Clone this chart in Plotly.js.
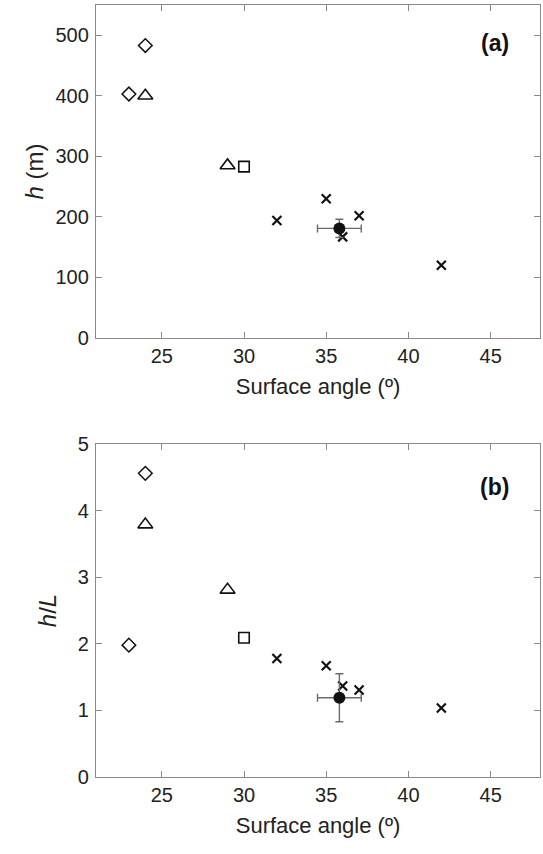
<!DOCTYPE html>
<html>
<head>
<meta charset="utf-8">
<script src="https://cdn.plot.ly/plotly-3.0.1.min.js"></script>
<style>html,body{margin:0;padding:0;background:#fff;}#chart{width:543px;height:854px;}</style>
</head>
<body>
<div id="chart"></div>
<script>
// Data
const angleDiamond = [24, 23];
const hDiamond = [483, 403];
const hLDiamond = [4.56, 1.98];

const angleTriangle = [24, 29];
const hTriangle = [400, 285];
const hLTriangle = [3.79, 2.81];

const angleSquare = [30];
const hSquare = [283];
const hLSquare = [2.09];

const angleCross = [32, 35, 36, 37, 42];
const hCross = [194, 230, 167, 202, 120];
const hLCross = [1.78, 1.67, 1.365, 1.305, 1.035];

const angleMean = [35.8];
const hMean = [181];
const hLMean = [1.19];
const angleErr = [1.33];
const hErr = [15];
const hLErr = [0.36];

const xTicks = [25, 30, 35, 40, 45];
const hTicks = [0, 100, 200, 300, 400, 500];
const hLTicks = [0, 1, 2, 3, 4, 5];

const FONT = 'Arial, "Liberation Sans", sans-serif';
const axisCol = '#8a8a8a';

function mk(x, y, sym, size, ax, lw, extra) {
  return Object.assign({
    type: 'scatter', mode: 'markers', x: x, y: y,
    xaxis: ax[0], yaxis: ax[1], showlegend: false, hoverinfo: 'skip',
    marker: {symbol: sym, size: size, color: '#111', line: {color: '#111', width: lw}}
  }, extra || {});
}

const errStyle = {type: 'data', color: '#6a6a6a', thickness: 1.4, width: 4};

const traces = [];
[['x', 'y', hDiamond, hTriangle, hSquare, hCross, hMean, hErr],
 ['x2', 'y2', hLDiamond, hLTriangle, hLSquare, hLCross, hLMean, hLErr]].forEach(p => {
  const ax = [p[0], p[1]];
  traces.push(mk(angleDiamond, p[2], 'diamond-open', 10.5, ax, 1.5));
  traces.push(mk(angleTriangle, p[3], 'triangle-up-open', 13, ax, 1.6));
  traces.push(mk(angleSquare, p[4], 'square-open', 10.5, ax, 1.6));
  traces.push(mk(angleCross, p[5], 'x-thin-open', 9, ax, 2.2));
  traces.push(mk(angleMean, p[6], 'circle', 12, ax, 0, {
    error_x: Object.assign({array: angleErr}, errStyle),
    error_y: Object.assign({array: p[7]}, errStyle)
  }));
});

const xCommon = {
  range: [21, 48], tickvals: xTicks, ticks: 'inside', ticklen: 6, tickcolor: axisCol,
  showline: true, linecolor: axisCol, linewidth: 1.2, mirror: 'ticks', showgrid: false, zeroline: false,
  tickfont: {family: FONT, size: 20, color: '#222'},
  title: {text: 'Surface angle (º)', font: {family: FONT, size: 22, color: '#222'}, standoff: 12}
};
const yCommon = {
  ticks: 'inside', ticklen: 6, tickcolor: axisCol,
  showline: true, linecolor: axisCol, linewidth: 1.2, mirror: 'ticks', showgrid: false, zeroline: false,
  tickfont: {family: FONT, size: 20, color: '#222'}, ticklabelstandoff: 2
};

const layout = {
  width: 543, height: 854,
  margin: {l: 96, r: 3, t: 5, b: 77},
  paper_bgcolor: '#fff', plot_bgcolor: '#fff',
  xaxis: Object.assign({}, xCommon, {domain: [0, 1], anchor: 'y'}),
  yaxis: Object.assign({}, yCommon, {domain: [0.5687, 1], anchor: 'x', range: [0, 550], tickvals: hTicks,
    title: {text: '<i>h</i> (m)', font: {family: FONT, size: 24, color: '#222'}, standoff: 5}}),
  xaxis2: Object.assign({}, xCommon, {domain: [0, 1], anchor: 'y2'}),
  yaxis2: Object.assign({}, yCommon, {domain: [0, 0.4313], anchor: 'x2', range: [0, 5], tickvals: hLTicks,
    title: {text: '<i>h</i>/<i>L</i>', font: {family: FONT, size: 24, color: '#222'}, standoff: 14}}),
  annotations: [
    {xref: 'x domain', yref: 'y domain', x: 0.935, y: 0.885, xanchor: 'right', yanchor: 'middle',
     text: '<b>(a)</b>', showarrow: false, font: {family: FONT, size: 23, color: '#111'}},
    {xref: 'x2 domain', yref: 'y2 domain', x: 0.935, y: 0.871, xanchor: 'right', yanchor: 'middle',
     text: '<b>(b)</b>', showarrow: false, font: {family: FONT, size: 23, color: '#111'}}
  ]
};

Plotly.newPlot('chart', traces, layout, {displayModeBar: false, staticPlot: true});
</script>
</body>
</html>
